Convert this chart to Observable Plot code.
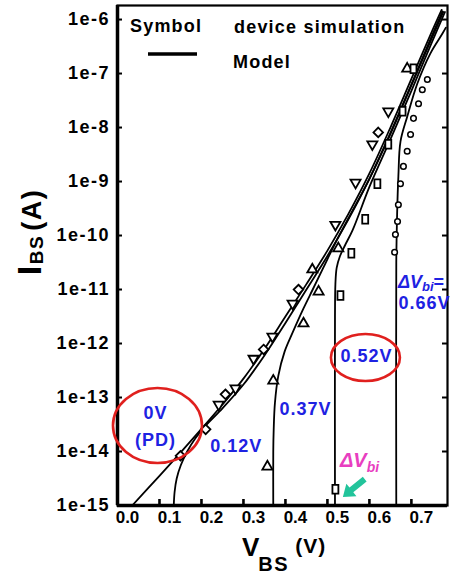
<!DOCTYPE html>
<html>
<head>
<meta charset="utf-8">
<script src="https://cdn.jsdelivr.net/npm/d3@7"></script>
<script src="https://cdn.jsdelivr.net/npm/@observablehq/plot@0.6"></script>
<style>
  html, body { margin: 0; padding: 0; background: #fff; overflow: hidden; }
  #chart svg { display: block; }
</style>
</head>
<body>
<div id="chart"></div>
<script>
// Body-source junction current I_BS versus forward bias V_BS.
// Each pair is [V_BS in volts, log10 of I_BS in amperes].

// Model curves, one per built-in potential shift ΔVbi
const model0V = [[0.035,-15.0],[0.10,-14.45],[0.15,-14.02],[0.20,-13.58],[0.25,-13.13],[0.30,-12.65],[0.35,-12.1],[0.40,-11.5],[0.45,-10.9],[0.50,-10.28],[0.55,-9.6],[0.60,-8.85],[0.65,-8.0],[0.70,-7.1],[0.75,-6.2],[0.772,-5.82]];
const model012V = [[0.134,-15.0],[0.136,-14.75],[0.141,-14.5],[0.151,-14.25],[0.166,-14.0],[0.186,-13.75],[0.21,-13.52],[0.25,-13.2],[0.30,-12.76],[0.35,-12.22],[0.40,-11.62],[0.45,-11.0],[0.50,-10.38],[0.55,-9.7],[0.60,-8.95],[0.65,-8.1],[0.70,-7.2],[0.75,-6.28],[0.774,-5.85]];
const model037V = [[0.371,-15.0],[0.371,-14.0],[0.372,-13.6],[0.375,-13.1],[0.383,-12.6],[0.398,-12.15],[0.417,-11.8],[0.443,-11.35],[0.465,-11.0],[0.49,-10.6],[0.52,-10.12],[0.55,-9.68],[0.60,-8.95],[0.65,-8.12],[0.70,-7.22],[0.75,-6.32],[0.776,-5.86]];
const model052V = [[0.518,-15.0],[0.518,-11.5],[0.519,-10.9],[0.522,-10.6],[0.53,-10.38],[0.542,-10.18],[0.56,-9.9],[0.60,-9.1],[0.65,-8.22],[0.70,-7.32],[0.75,-6.4],[0.78,-5.86]];
const model066V = [[0.664,-15.0],[0.664,-10.5],[0.666,-9.6],[0.669,-8.9],[0.674,-8.26],[0.69,-7.8],[0.714,-7.19],[0.745,-6.63],[0.774,-6.26],[0.782,-6.15]];

// Device simulation points
const simDownTri = [[0.241,-13.13],[0.281,-12.83],[0.324,-12.28],[0.369,-11.87],[0.417,-11.26],[0.519,-9.80],[0.567,-9.02],[0.607,-8.31],[0.645,-7.70]];
const simDiamond = [[0.150,-14.08],[0.210,-13.59],[0.257,-12.94],[0.348,-12.11],[0.431,-11.0],[0.621,-8.09]];
const simUpTri = [[0.357,-14.28],[0.371,-12.69],[0.443,-11.63],[0.479,-11.04],[0.464,-10.63],[0.526,-10.24],[0.690,-6.91]];
const simSquare = [[0.519,-14.70],[0.531,-11.11],[0.557,-10.33],[0.590,-9.70],[0.619,-9.04],[0.645,-8.31],[0.679,-7.70],[0.705,-6.91]];
const simCircle = [[0.660,-10.31],[0.662,-9.98],[0.667,-9.74],[0.669,-9.43],[0.674,-9.04],[0.681,-8.72],[0.690,-8.44],[0.698,-8.13],[0.705,-7.83],[0.717,-7.56],[0.726,-7.30],[0.738,-7.11]];

// Axis tick labels
const xTickLabels = ["0.0","0.1","0.2","0.3","0.4","0.5","0.6","0.7"];
const yTickLabels = ["1e-15","1e-14","1e-13","1e-12","1e-11","1e-10","1e-9","1e-8","1e-7","1e-6"];
const xTicks = xTickLabels.map(Number);
const yTicks = yTickLabels.map(Number);

// ΔVbi labels next to the curves: [text, V_BS, log10 I_BS]
const curveLabels = [["0V",0.0905,-13.296],["(PD)",0.0905,-13.787],["0.12V",0.283,-13.907],["0.37V",0.448,-13.213],["0.52V",0.593,-12.231]];
const sideLabel = ["0.66V",0.669,-11.26];

const pts = arr => arr.map(([v, lg]) => ({V: v, I: 10 ** lg}));

const font = '"Liberation Sans", Arial, sans-serif';
const blue = "#1e22e2";
const tallRect = {
  draw(ctx, size) {
    const s = Math.sqrt(size), w = s * 0.78, h = s * 1.15;
    ctx.rect(-w / 2, -h / 2, w, h);
  }
};

const lineOpts = {x: "V", y: "I", stroke: "black", strokeWidth: 1.8, curve: "catmull-rom", clip: true};
const dotOpts = {x: "V", y: "I", stroke: "black", strokeWidth: 1.8, fill: "white"};

const plot = Plot.plot({
  width: 450,
  height: 574,
  marginLeft: 117,
  marginRight: 3,
  marginTop: 5,
  marginBottom: 69,
  x: {domain: [0, 0.786]},
  y: {type: "log", domain: [1e-15, 10 ** -5.74]},
  style: {background: "white", color: "black", fontFamily: font, overflow: "visible"},
  marks: [
    // model curves
    ...[model0V, model012V, model037V, model052V, model066V].map(m => Plot.line(pts(m), lineOpts)),
    // device simulation symbols
    Plot.dot(pts(simDownTri), {...dotOpts, symbol: "triangle2", rotate: 180, r: 4.8}),
    Plot.dot(pts(simUpTri), {...dotOpts, symbol: "triangle2", r: 4.8}),
    Plot.dot(pts(simDiamond), {...dotOpts, symbol: "diamond2", r: 4.3}),
    Plot.dot(pts(simSquare), {...dotOpts, symbol: tallRect, r: 4.3}),
    Plot.dot(pts(simCircle), {...dotOpts, symbol: "circle", r: 2.8, strokeWidth: 1.5}),
    // frame and inward ticks
    Plot.frame({stroke: "black", strokeWidth: 2.2}),
    Plot.ruleX([0], {stroke: "black", strokeWidth: 3.5}),
    Plot.ruleY([1e-15], {stroke: "black", strokeWidth: 3.5}),
    Plot.tickX(xTicks.slice(1), {x: d => d, insetTop: 494, stroke: "black", strokeWidth: 2.6}),
    Plot.tickY(yTicks, {y: d => d, insetRight: 325, stroke: "black", strokeWidth: 2}),
    Plot.tickY(yTicks, {y: d => d, insetLeft: 325, stroke: "black", strokeWidth: 2}),
    // tick labels
    Plot.axisX({ticks: xTicks, tickFormat: d => xTickLabels[xTicks.indexOf(d)], tickSize: 0, tickPadding: 5, dx: 10, label: null, fontSize: 17, fontWeight: "bold"}),
    Plot.axisY({ticks: yTicks, tickFormat: d => yTickLabels[yTicks.indexOf(d)], tickSize: 0, tickPadding: 7.5, label: null, fontSize: 18, fontWeight: "bold"}),
    // ΔVbi annotations
    Plot.text(curveLabels, {x: d => d[1], y: d => 10 ** d[2], text: d => d[0], fill: blue, fontSize: 18, fontWeight: "bold"}),
    Plot.text([sideLabel], {x: d => d[1], y: d => 10 ** d[2], text: d => d[0], fill: blue, fontSize: 18, fontWeight: "bold", textAnchor: "start"})
  ]
});

document.getElementById("chart").appendChild(plot);

const svg = d3.select(plot);
const sx = plot.scale("x"), sy = plot.scale("y");
const px = v => sx.apply(v);
const py = lg => sy.apply(10 ** lg);

svg.selectAll('g[aria-label="y-axis tick label"] text').style("letter-spacing", "1.5px");
svg.selectAll('g[aria-label="text"] text').style("letter-spacing", "1px");

// red circles around the PD and 0.52 V labels
const red = "#e0201e";
svg.append("ellipse").attr("cx", px(0.0964)).attr("cy", py(-13.528)).attr("rx", 44.5).attr("ry", 37.5)
  .attr("fill", "none").attr("stroke", red).attr("stroke-width", 2.6);
svg.append("ellipse").attr("cx", px(0.5917)).attr("cy", py(-12.269)).attr("rx", 34.5).attr("ry", 23.5)
  .attr("fill", "none").attr("stroke", red).attr("stroke-width", 2.6);

// ΔVbi= heading of the 0.66 V label
const dv = svg.append("text").attr("x", px(0.669)).attr("y", py(-10.98)).attr("text-anchor", "start")
  .attr("fill", blue).style("font-size", "18px").style("font-weight", "bold").style("font-style", "italic");
dv.append("tspan").text("ΔV");
dv.append("tspan").attr("dy", 3).style("font-size", "13px").text("bi");
dv.append("tspan").attr("dy", -3).style("font-style", "normal").text("=");

// magenta ΔVbi with arrow
const pink = "#e83ec0";
const dp = svg.append("text").attr("x", px(0.531)).attr("y", py(-14.296)).attr("text-anchor", "start")
  .attr("fill", pink).style("font-size", "20px").style("font-weight", "bold").style("font-style", "italic");
dp.append("tspan").text("ΔV");
dp.append("tspan").attr("dy", 5).style("font-size", "14px").text("bi");

{
  const x0 = px(0.590), y0 = py(-14.52), x1 = px(0.538), y1 = py(-14.85);
  const dx = x1 - x0, dy = y1 - y0, L = Math.hypot(dx, dy);
  const ux = dx / L, uy = dy / L, nx = -uy, ny = ux;
  const head = 11, hw = 8, sw = 3;
  const bx = x1 - ux * head, by = y1 - uy * head;
  const p = [
    [x0 + nx * sw, y0 + ny * sw], [bx + nx * sw, by + ny * sw], [bx + nx * hw, by + ny * hw],
    [x1, y1], [bx - nx * hw, by - ny * hw], [bx - nx * sw, by - ny * sw], [x0 - nx * sw, y0 - ny * sw]
  ];
  svg.append("polygon").attr("points", p.map(q => q.join(",")).join(" ")).attr("fill", "#22c49b");
}

// legend
const leg = svg.append("g").attr("text-anchor", "start")
  .style("font-size", "18px").style("font-weight", "bold").style("letter-spacing", "1.2px");
leg.append("text").attr("x", 130).attr("y", 32).text("Symbol");
leg.append("text").attr("x", 234).attr("y", 33).text("device simulation");
leg.append("line").attr("x1", 148).attr("x2", 197).attr("y1", 54).attr("y2", 54).attr("stroke", "black").attr("stroke-width", 3.5);
leg.append("text").attr("x", 233).attr("y", 68).text("Model");

// axis titles
const yl = svg.append("text").attr("transform", "translate(41,232) rotate(-90)").attr("text-anchor", "middle")
  .style("font-weight", "bold").style("letter-spacing", "1.5px");
yl.append("tspan").style("font-size", "34px").text("I");
yl.append("tspan").attr("dy", 2).style("font-size", "19px").text("BS");
yl.append("tspan").attr("dy", -2).attr("dx", 4).style("font-size", "27px").text("(A)");

const xl = svg.append("text").attr("x", 242).attr("y", 556).attr("text-anchor", "start").style("font-weight", "bold");
xl.append("tspan").style("font-size", "26px").text("V");
xl.append("tspan").attr("dx", -1).attr("dy", 15).style("font-size", "20px").style("letter-spacing", "1.5px").text("BS");
xl.append("tspan").attr("dx", 6).attr("dy", -18).style("font-size", "21px").style("letter-spacing", "1px").text("(V)");
</script>
</body>
</html>
